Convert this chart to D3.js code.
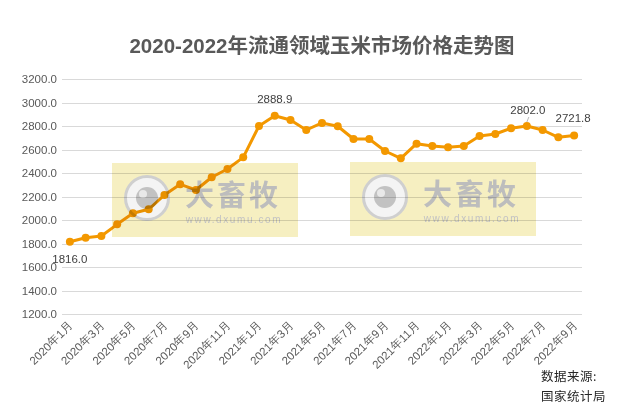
<!DOCTYPE html>
<html><head><meta charset="utf-8">
<script src="https://cdn.jsdelivr.net/npm/d3@7"></script>
<style>
html,body{margin:0;padding:0;background:#fff;}
svg{display:block;font-family:"Liberation Sans","Noto Sans CJK SC",sans-serif;}
</style></head>
<body><svg id="c" width="619" height="405"></svg>
<script>
const title = "2020-2022年流通领域玉米市场价格走势图";
const months = ["2020年1月","2020年2月","2020年3月","2020年4月","2020年5月","2020年6月","2020年7月","2020年8月","2020年9月","2020年10月","2020年11月","2020年12月",
"2021年1月","2021年2月","2021年3月","2021年4月","2021年5月","2021年6月","2021年7月","2021年8月","2021年9月","2021年10月","2021年11月","2021年12月",
"2022年1月","2022年2月","2022年3月","2022年4月","2022年5月","2022年6月","2022年7月","2022年8月","2022年9月"];
const prices = [1816.0,1850,1865,1964,2058,2092,2214,2305,2257,2365,2436,2535,2802,2888.9,2853,2768,2828,2800,2691,2691,2589,2527,2651,2632,2621,2632,2717,2734,2783,2802.0,2768,2706,2721.8];
const yTicks = [1200,1400,1600,1800,2000,2200,2400,2600,2800,3000,3200];
const labeled = [0,13,29,32];
const sourceLines = ["数据来源:","国家统计局"];
const watermark = ["大畜牧","www.dxumu.com"];

const svg = d3.select("#c");
const x = d3.scaleBand().domain(months).range([62,582]);
const y = d3.scaleLinear().domain([1200,3200]).range([314,79.3]);
const cx = m => x(m) + x.bandwidth()/2;

svg.append("text").attr("x",322).attr("y",53).attr("text-anchor","middle")
  .attr("font-size",20.5).attr("font-weight","bold").attr("fill","#595959").text(title);

// gridlines
svg.append("g").selectAll("line").data(yTicks).join("line")
  .attr("x1",62).attr("x2",582).attr("y1",d=>Math.round(y(d))+0.5).attr("y2",d=>Math.round(y(d))+0.5)
  .attr("stroke","#d9d9d9").attr("stroke-width",1);

// y axis labels
const ya = svg.append("g").attr("transform","translate(62,0)")
  .call(d3.axisLeft(y).tickValues(yTicks).tickFormat(d3.format(".1f")).tickSize(0).tickPadding(0));
ya.select(".domain").remove();
ya.selectAll("text").attr("x",-5).attr("font-size",11.5).attr("fill","#595959").attr("font-family",null);

// x axis labels
const xa = svg.append("g").attr("transform","translate(0,314)")
  .call(d3.axisBottom(x).tickValues(months.filter((d,i)=>i%2===0)).tickSize(0));
xa.select(".domain").remove();
xa.selectAll("text").attr("font-size",11.5).attr("fill","#595959").attr("font-family",null)
  .attr("text-anchor","end").attr("dy",null).attr("y",0)
  .attr("transform","translate(4,12) rotate(-45)");

// line
const line = d3.line().x((d,i)=>cx(months[i])).y(d=>y(d));
svg.append("path").datum(prices).attr("d",line).attr("fill","none")
  .attr("stroke","#f39800").attr("stroke-width",3).attr("stroke-linejoin","round");
svg.append("g").selectAll("circle").data(prices).join("circle")
  .attr("cx",(d,i)=>cx(months[i])).attr("cy",d=>y(d)).attr("r",4).attr("fill","#f39800");

// data labels
const lab = svg.append("g").attr("font-size",11.5).attr("fill","#404040");
labeled.forEach(i=>{
  const px = cx(months[i]), py = y(prices[i]);
  let tx = px, ty = py - 13;
  if(i===0){ tx = px; ty = py + 21; }
  if(i===29){ tx = px+1; ty = py - 12;
    svg.append("line").attr("x1",px).attr("y1",py-4).attr("x2",px+2).attr("y2",py-9).attr("stroke","#a6a6a6").attr("stroke-width",0.8);}
  if(i===32){ tx = px-1; ty = py - 13; }
  lab.append("text").attr("x",tx).attr("y",ty).attr("text-anchor","middle").text(d3.format(".1f")(prices[i]));
});

// watermarks
const wm = svg.append("g").style("mix-blend-mode","multiply");
[[112,163],[350,162]].forEach(([bx,by])=>{
  const g = wm.append("g").attr("transform",`translate(${bx},${by})`);
  g.append("rect").attr("width",186).attr("height",74).attr("fill","#f6efc1");
  g.append("circle").attr("cx",35).attr("cy",35).attr("r",21.5).attr("fill","#f4f4f4").attr("stroke","#cfcfcf").attr("stroke-width",3);
  g.append("circle").attr("cx",35).attr("cy",35).attr("r",11).attr("fill","#c2c2c2");
  g.append("circle").attr("cx",31).attr("cy",31).attr("r",4).attr("fill","#e8e8e8");
  g.append("text").attr("x",121).attr("y",43).attr("text-anchor","middle").attr("font-size",29).attr("font-weight","bold")
    .attr("fill","#bdbdbd").attr("font-family","Noto Sans CJK SC").attr("letter-spacing",3).text(watermark[0]);
  g.append("text").attr("x",122).attr("y",60).attr("text-anchor","middle").attr("font-size",10)
    .attr("fill","#c3c3c3").attr("letter-spacing",1.6).text(watermark[1]);
});

// source
const src = svg.append("g").attr("font-size",12.5).attr("fill","#262626").attr("font-family","Noto Sans CJK SC");
sourceLines.forEach((t,i)=>src.append("text").attr("x",541).attr("y",381+i*20).attr("letter-spacing",0.5).text(t));
</script></body></html>
